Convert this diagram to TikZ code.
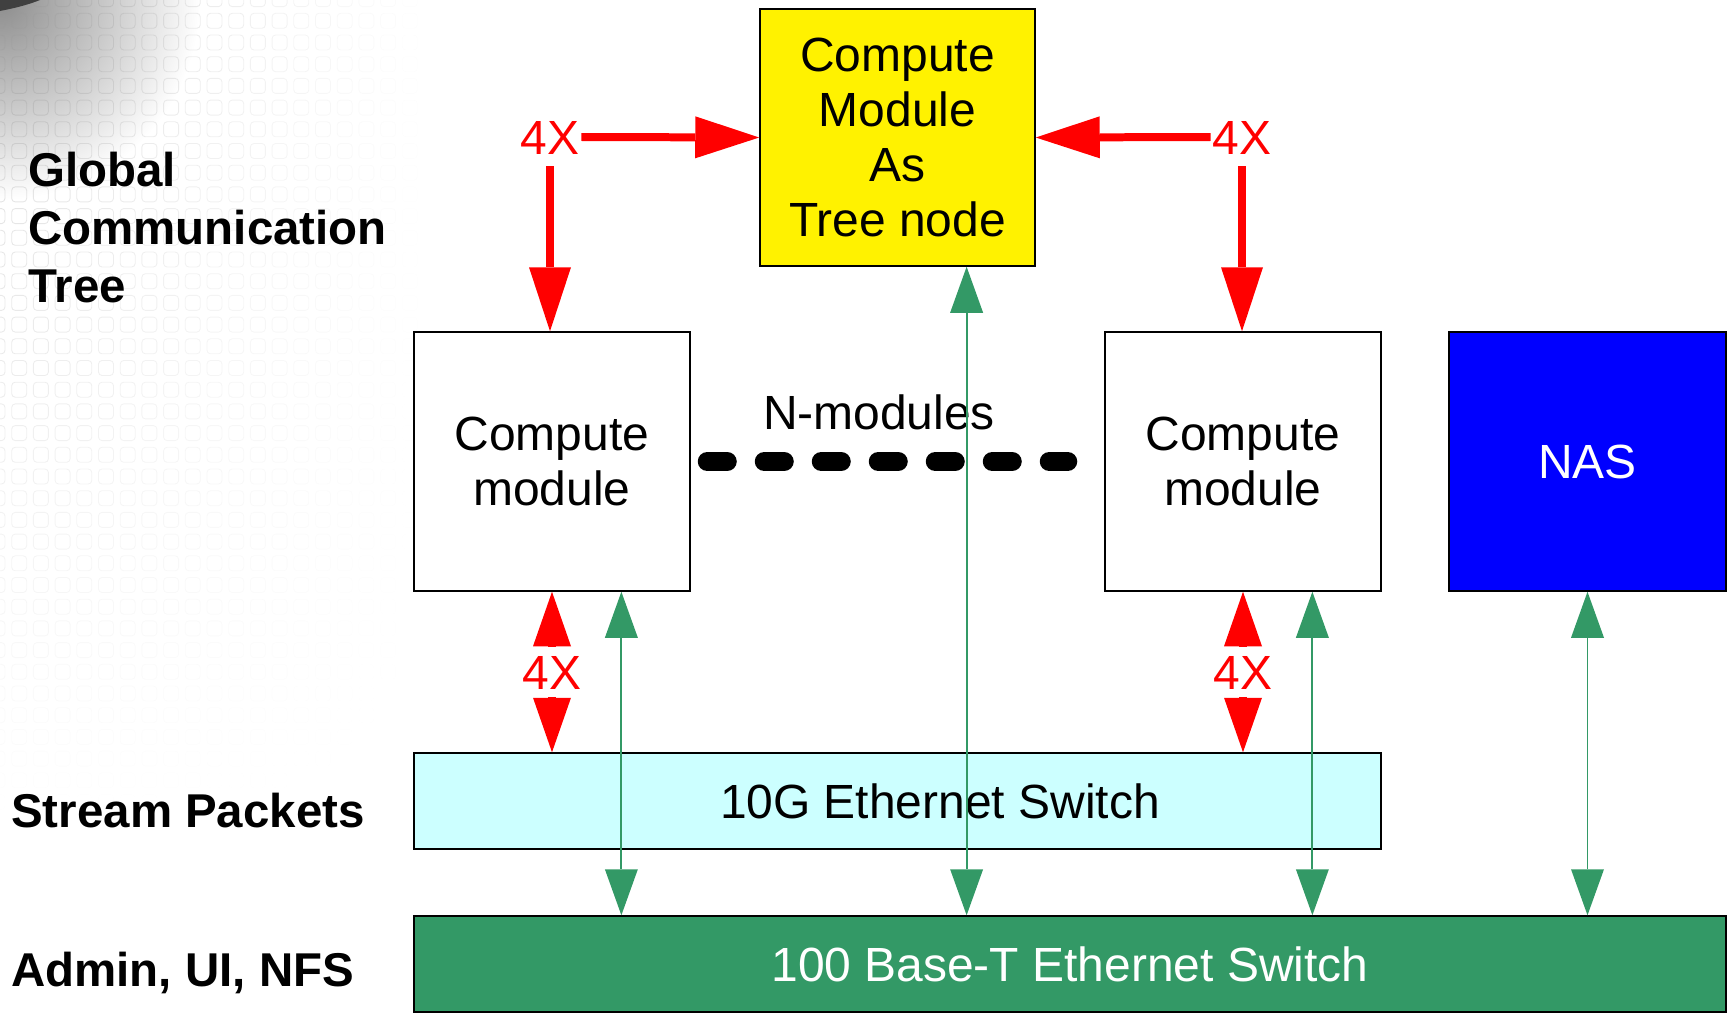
\documentclass[tikz,border=0pt]{standalone}
\usepackage{fontspec}
\setmainfont{Liberation Sans}
\usetikzlibrary{arrows.meta,calc}

\definecolor{lan}{RGB}{51,153,102}
\definecolor{fabric}{RGB}{204,255,255}

\begin{document}
\begin{tikzpicture}[x=0.2mm, y=-0.2mm,
  box/.style={draw, line width=0.85pt, inner sep=0pt, align=center,
    font=\fontsize{27.3}{31.3}\selectfont},
  side/.style={anchor=base west, inner sep=0pt, align=left,
    font=\bfseries\fontsize{27}{33}\selectfont},
  four/.style={text=red, inner xsep=1pt, text height=19.5pt, text depth=0pt,
    font=\fontsize{27.3}{31.3}\selectfont},
  tree link/.style={red, line width=4.55pt,
    -{Triangle[length=12.8mm, width=8.4mm, line width=0pt]}},
  tor link/.style={red, line width=4.55pt,
    -{Triangle[length=10.9mm, width=7.6mm, line width=0pt]}},
  lan link/.style={lan, line width=1.1pt,
    {Triangle[length=9.2mm, width=6.6mm, line width=0pt]}-{Triangle[length=9.2mm, width=6.6mm, line width=0pt]}},
]
\useasboundingbox (0,0) rectangle (1732,1013);

% backdrop in the corner
\shade[inner color=black!45, outer color=white] (0,0) circle (200);
\foreach \i in {0,...,19}
  \foreach \j in {0,...,37} {
    \pgfmathsetmacro\fade{0.35*(1-\i/20)*(1-\j/38)}
    \draw[black!40, line width=0.5pt, opacity=\fade, rounded corners=2]
      (-10+21.7*\i, -8.4+21.7*\j) rectangle ++(15,15);
  }
\fill[black!75] (0,0) -- (40,0) .. controls (25,6) and (10,9) .. (0,11) -- cycle;

% boxes
\node[box, fill=yellow, minimum width=55mm, minimum height=51.4mm] (tree)
  at (897.5,137.5) {Compute\\Module\\As\\Tree node};
\node[box, minimum width=55.2mm, minimum height=51.8mm] (cm1)
  at (552,461.5) {Compute\\module};
\node[box, minimum width=55.2mm, minimum height=51.8mm] (cm2)
  at (1243,461.5) {Compute\\module};
\node[box, fill=blue, text=white, minimum width=55.4mm, minimum height=51.8mm] (nas)
  at (1587.5,461.5) {NAS};
\node[box, fill=fabric, minimum width=193.4mm, minimum height=19.2mm] (sw10)
  at (897.5,801) {\hspace*{17mm}10G Ethernet Switch};
\node[box, fill=lan, text=white, minimum width=262.4mm, minimum height=19.2mm] (base)
  at (1070,964) {100 Base-T Ethernet Switch};
\node[font=\fontsize{27.3}{31.3}\selectfont] (nmod) at (879,412) {N-modules};

% row labels
\node[side] (treelbl) at (28,302) {Global\\Communication\\Tree};
\node[side] (streamlbl) at (11,827) {Stream Packets};
\node[side] (adminlbl) at (11,986) {Admin, UI, NFS};

% link counts
\node[four, inner ysep=6.75pt] (tl) at (550,137) {4X};
\node[four, inner ysep=6.75pt] (tr) at (1242,137) {4X};
\node[four, inner ysep=4.5pt] (bl) at (552,672) {4X};
\node[four, inner ysep=4.5pt] (br) at (1243,672) {4X};

\draw[line width=3.8mm, line cap=round, dash pattern=on 4mm off 7.4mm,
  shorten <=3.3mm, shorten >=7.3mm] (cm1.east) -- (cm2.west);

\draw[tree link] (tl.east) -- (tree.west);
\draw[tree link] (tr.west) -- (tree.east);
\draw[tree link] (tl.south) -- (tl.south |- cm1.north);
\draw[tree link] (tr.south) -- (tr.south |- cm2.north);
\draw[tor link] (bl.north) -- (bl.north |- cm1.south);
\draw[tor link] (bl.south) -- (bl.south |- sw10.north);
\draw[tor link] (br.north) -- (br.north |- cm2.south);
\draw[tor link] (br.south) -- (br.south |- sw10.north);

\coordinate (g0) at ($(tree.south west)!.75!(tree.south east)$);
\coordinate (g1) at ($(cm1.south west)!.75!(cm1.south east)$);
\coordinate (g2) at ($(cm2.south west)!.75!(cm2.south east)$);
\foreach \g in {g0,g1,g2,nas.south}
  \draw[lan link] (\g) -- (\g |- base.north);
\end{tikzpicture}
\end{document}
